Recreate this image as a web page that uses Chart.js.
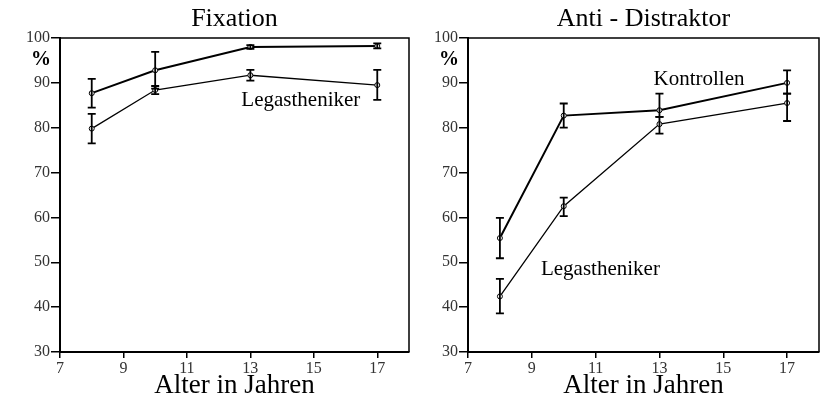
<!DOCTYPE html>
<html>
<head>
<meta charset="utf-8">
<script src="https://cdn.jsdelivr.net/npm/chart.js@4.4.1/dist/chart.umd.min.js"></script>
<style>
  html, body { margin: 0; padding: 0; background: #fff; }
  #wrap { position: relative; width: 827px; height: 400px; }
  canvas { position: absolute; top: 0; }
</style>
</head>
<body>
<div id="wrap">
  <canvas id="fix" width="414" height="400" style="left:0"></canvas>
  <canvas id="anti" width="413" height="400" style="left:414px"></canvas>
</div>
<script>
// age groups (years)
const ages = [8, 10, 13, 17];
const xTicks = [7, 9, 11, 13, 15, 17];
const yTicks = [30, 40, 50, 60, 70, 80, 90, 100];

// Fixation, % correct
const fixKontrollen = [87.7, 92.8, 98.0, 98.2];
const fixKontrollenLow = [84.5, 88.7, 97.6, 97.7];
const fixKontrollenHigh = [90.9, 96.9, 98.4, 98.8];
const fixLegast = [79.8, 88.4, 91.7, 89.5];
const fixLegastLow = [76.5, 87.5, 90.5, 86.2];
const fixLegastHigh = [83.1, 89.3, 92.9, 92.9];

// Anti - Distraktor, % correct
const antiKontrollen = [55.4, 82.7, 83.9, 90.0];
const antiKontrollenLow = [50.9, 80.0, 82.4, 87.6];
const antiKontrollenHigh = [59.9, 85.4, 87.6, 92.8];
const antiLegast = [42.4, 62.5, 80.8, 85.5];
const antiLegastLow = [38.6, 60.3, 78.7, 81.5];
const antiLegastHigh = [46.3, 64.4, 82.4, 87.6];

const SERIF = "'Liberation Serif', 'Times New Roman', serif";

const errorBars = {
  id: "errorBars",
  afterDatasetsDraw(chart) {
    const { ctx, scales: { x, y } } = chart;
    ctx.save();
    ctx.strokeStyle = "#000";
    ctx.lineWidth = 1.8;
    chart.data.datasets.forEach((ds) => {
      ds.data.forEach((p, i) => {
        const px = x.getPixelForValue(p.x);
        const top = y.getPixelForValue(ds.high[i]);
        const bot = y.getPixelForValue(ds.low[i]);
        ctx.beginPath();
        ctx.moveTo(px, top);
        ctx.lineTo(px, bot);
        ctx.moveTo(px - 4, top);
        ctx.lineTo(px + 4, top);
        ctx.moveTo(px - 4, bot);
        ctx.lineTo(px + 4, bot);
        ctx.stroke();
      });
    });
    ctx.restore();
  },
};

// top and right edge of the plot frame, plus the "%" and series notes
const frameAndNotes = {
  id: "frameAndNotes",
  afterDraw(chart, args, opts) {
    const { ctx, chartArea: a, scales: { x, y } } = chart;
    ctx.save();
    ctx.strokeStyle = "#000";
    ctx.lineWidth = 1.5;
    ctx.beginPath();
    ctx.moveTo(a.left, a.top);
    ctx.lineTo(a.right, a.top);
    ctx.lineTo(a.right, a.bottom);
    ctx.stroke();

    ctx.fillStyle = "#000";
    ctx.textAlign = "center";
    ctx.textBaseline = "middle";
    ctx.font = "bold 20px " + SERIF;
    ctx.fillText("%", a.left - 19, y.getPixelForValue(95.1));

    ctx.font = "21px " + SERIF;
    (opts.notes || []).forEach((n) => {
      ctx.fillText(n.text, x.getPixelForValue(n.x), y.getPixelForValue(n.y));
    });
    ctx.restore();
  },
};

function series(values, low, high, width) {
  return {
    data: values.map((v, i) => ({ x: ages[i], y: v })),
    low: low,
    high: high,
    borderColor: "#000",
    borderWidth: width,
    pointRadius: 2.5,
    pointBorderWidth: 1,
    pointBorderColor: "#000",
    pointBackgroundColor: "#fff",
    tension: 0,
  };
}

function makeChart(id, title, datasets, yWidth, padRight, notes) {
  new Chart(document.getElementById(id), {
    type: "line",
    data: { datasets: datasets },
    plugins: [errorBars, frameAndNotes],
    options: {
      responsive: false,
      animation: false,
      layout: { padding: { left: 0, right: padRight, top: 0, bottom: 0 } },
      plugins: {
        legend: { display: false },
        tooltip: { enabled: false },
        frameAndNotes: { notes: notes },
      },
      scales: {
        x: {
          type: "linear",
          min: 7,
          max: 18,
          afterBuildTicks: (s) => { s.ticks = xTicks.map((v) => ({ value: v })); },
          afterFit: (s) => { s.height = 48; },
          ticks: { font: { family: SERIF, size: 16 }, color: "#333", padding: 1, maxRotation: 0, autoSkip: false },
          grid: { drawOnChartArea: false, tickLength: 6, color: "#000", lineWidth: 1.5 },
          border: { color: "#000", width: 2 },
          title: {
            display: true,
            text: "Alter in Jahren",
            color: "#000",
            font: { family: SERIF, size: 27, lineHeight: 1 },
            padding: { top: 0, bottom: 1 },
          },
        },
        top: {
          type: "linear",
          position: "top",
          axis: "x",
          afterFit: (s) => { s.height = 38; },
          ticks: { display: false },
          grid: { display: false },
          border: { display: false },
          title: {
            display: true,
            text: title,
            color: "#000",
            font: { family: SERIF, size: 26, lineHeight: 1 },
            padding: { top: 6, bottom: 0 },
          },
        },
        y: {
          min: 30,
          max: 100,
          afterBuildTicks: (s) => { s.ticks = yTicks.map((v) => ({ value: v })); },
          afterFit: (s) => { s.width = yWidth; },
          ticks: { font: { family: SERIF, size: 16 }, color: "#333", padding: 1 },
          grid: { drawOnChartArea: false, tickLength: 9, color: "#000", lineWidth: 1.5 },
          border: { color: "#000", width: 2 },
        },
      },
    },
  });
}

makeChart(
  "fix",
  "Fixation",
  [
    series(fixKontrollen, fixKontrollenLow, fixKontrollenHigh, 2),
    series(fixLegast, fixLegastLow, fixLegastHigh, 1.3),
  ],
  60,
  3.5,
  [{ text: "Legastheniker", x: 14.59, y: 86.0 }]
);

makeChart(
  "anti",
  "Anti - Distraktor",
  [
    series(antiKontrollen, antiKontrollenLow, antiKontrollenHigh, 2),
    series(antiLegast, antiLegastLow, antiLegastHigh, 1.3),
  ],
  54,
  8,
  [
    { text: "Kontrollen", x: 14.24, y: 90.7 },
    { text: "Legastheniker", x: 11.15, y: 48.35 },
  ]
);
</script>
</body>
</html>
